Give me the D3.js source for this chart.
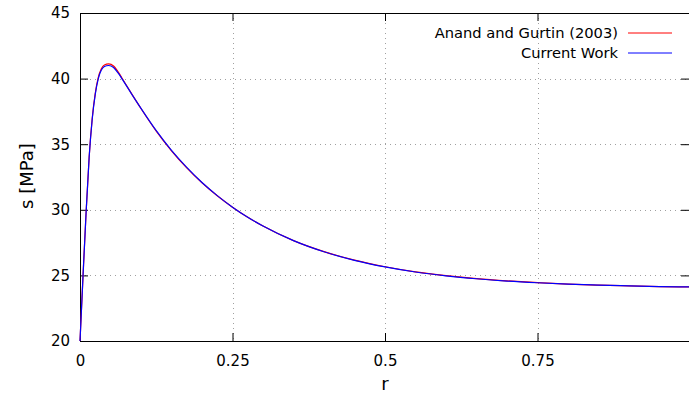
<!DOCTYPE html>
<html>
<head>
<meta charset="utf-8">
<script src="https://cdn.jsdelivr.net/npm/d3@7"></script>
<style>
html,body{margin:0;padding:0;background:#fff;}
svg{display:block;}
text{font-family:"DejaVu Sans",sans-serif;fill:#000;}
</style>
</head>
<body>
<svg id="chart" width="689" height="397"></svg>
<script>
// ---- data ----
const rValues = [0, 0.005, 0.01, 0.015, 0.02, 0.025, 0.03, 0.035, 0.04, 0.047, 0.055, 0.063, 0.07, 0.085, 0.1, 0.125, 0.15, 0.175, 0.2, 0.225, 0.25, 0.275, 0.3, 0.35, 0.4, 0.45, 0.5, 0.55, 0.6, 0.65, 0.7, 0.75, 0.8, 0.85, 0.9, 0.95, 1.0];
const anandGurtin = [20.0, 25.0, 29.8, 34.0, 36.95, 38.88, 40.1, 40.75, 41.03, 41.12, 40.96, 40.48, 39.95, 38.82, 37.72, 36.0, 34.5, 33.2, 32.06, 31.07, 30.2, 29.43, 28.76, 27.65, 26.81, 26.16, 25.66, 25.27, 24.98, 24.75, 24.58, 24.45, 24.34, 24.26, 24.2, 24.15, 24.12];
const currentWork = [20.0, 25.0, 29.8, 34.0, 36.9, 38.8, 40.0, 40.65, 40.92, 41.0, 40.85, 40.4, 39.9, 38.8, 37.73, 36.03, 34.53, 33.23, 32.08, 31.08, 30.2, 29.43, 28.76, 27.65, 26.8, 26.15, 25.65, 25.26, 24.97, 24.745, 24.57, 24.44, 24.335, 24.26, 24.2, 24.15, 24.12];
const xTicks = [0, 0.25, 0.5, 0.75];
const xTickLabels = ["0", "0.25", "0.5", "0.75"];
const yTicks = [20, 25, 30, 35, 40, 45];
const seriesNames = ["Anand and Gurtin (2003)", "Current Work"];
const seriesColors = ["#ff0000", "#0000ff"];

// ---- layout ----
const svg = d3.select("#chart");
const L = 80, R = 690, T = 13, B = 341;
const x = d3.scaleLinear().domain([0, 1]).range([L, R]);
const y = d3.scaleLinear().domain([20, 45]).range([B, T]);

// grid
const grid = svg.append("g");
xTicks.filter(d => d > 0).forEach(d => {
  grid.append("line").attr("x1", Math.round(x(d)) + 0.5).attr("x2", Math.round(x(d)) + 0.5).attr("y1", T).attr("y2", B)
    .attr("stroke", "#a0a0a0").attr("stroke-width", 1).attr("stroke-dasharray", "1,4");
});
yTicks.filter(d => d > 20 && d < 45).forEach(d => {
  grid.append("line").attr("x1", L).attr("x2", R).attr("y1", Math.round(y(d)) + 0.5).attr("y2", Math.round(y(d)) + 0.5)
    .attr("stroke", "#a0a0a0").attr("stroke-width", 1).attr("stroke-dasharray", "1,4");
});

// axes
const tickLen = 8;
const xAxisB = d3.axisBottom(x).tickValues(xTicks).tickFormat((d, i) => xTickLabels[i]).tickSizeInner(-tickLen).tickSizeOuter(0).tickPadding(14);
const gx = svg.append("g").attr("transform", `translate(0,${B})`).call(xAxisB);
gx.select(".domain").remove();
gx.selectAll("text").style("font-size", "15px");
const xAxisT = d3.axisTop(x).tickValues(xTicks).tickFormat("").tickSizeInner(-tickLen).tickSizeOuter(0);
const gxt = svg.append("g").attr("transform", `translate(0,${T})`).call(xAxisT);
gxt.select(".domain").remove();

const yAxisL = d3.axisLeft(y).tickValues(yTicks).tickFormat(d3.format("d")).tickSizeInner(-tickLen).tickSizeOuter(0).tickPadding(10);
const gy = svg.append("g").attr("transform", `translate(${L},0)`).call(yAxisL);
gy.select(".domain").remove();
gy.selectAll("text").style("font-size", "15px");
const yAxisR = d3.axisRight(y).tickValues(yTicks).tickFormat("").tickSizeInner(-tickLen).tickSizeOuter(0);
const gyr = svg.append("g").attr("transform", `translate(${R - 1},0)`).call(yAxisR);
gyr.select(".domain").remove();
svg.selectAll(".tick line").attr("stroke", "#000");

// border
svg.append("rect").attr("x", L + 0.5).attr("y", T + 0.5).attr("width", R - L - 1).attr("height", B - T)
  .attr("fill", "none").attr("stroke", "#000").attr("stroke-width", 1);

// lines
const line = d3.line().x(d => x(d[0])).y(d => y(d[1])).curve(d3.curveMonotoneX);
[anandGurtin, currentWork].forEach((vals, i) => {
  svg.append("path").datum(rValues.map((r, j) => [r, vals[j]]))
    .attr("d", line).attr("fill", "none").attr("stroke", seriesColors[i]).attr("stroke-width", 1.2);
});

// legend
seriesNames.forEach((name, i) => {
  const ly = 33 + i * 20;
  svg.append("text").attr("x", 618).attr("y", ly).attr("dy", "0.35em").attr("text-anchor", "end")
    .style("font-size", "14.7px").text(name);
  svg.append("line").attr("x1", 628).attr("x2", 672).attr("y1", ly).attr("y2", ly)
    .attr("stroke", seriesColors[i]).attr("stroke-width", 1);
});

// axis labels
svg.append("text").attr("x", x(0.5)).attr("y", 384).attr("dy", "0.35em").attr("text-anchor", "middle")
  .style("font-size", "18px").text("r");
svg.append("text").attr("transform", `translate(27,176) rotate(-90)`).attr("dy", "0.35em")
  .attr("text-anchor", "middle").style("font-size", "18px").text("s [MPa]");
</script>
</body>
</html>
